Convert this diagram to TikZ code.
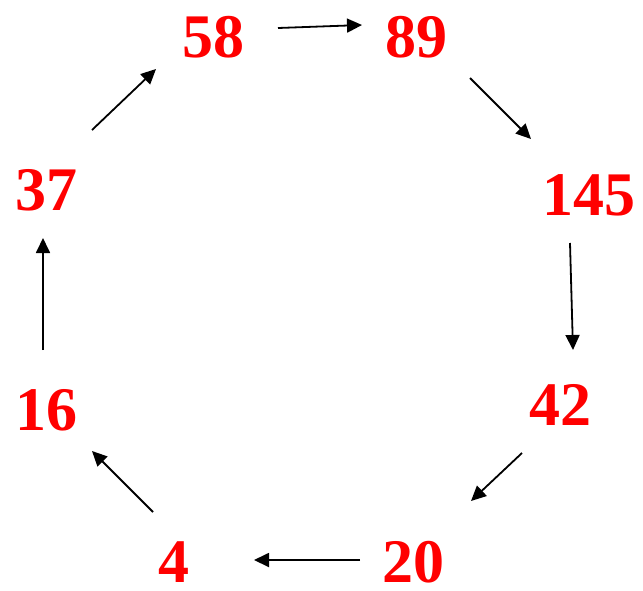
\documentclass[tikz,border=0pt]{standalone}
\usepackage{fontspec}
\setmainfont{Liberation Serif}
\usetikzlibrary{arrows.meta}
\definecolor{numred}{RGB}{255,0,0}
\begin{document}
\begin{tikzpicture}[x=1pt,y=-1pt,
  num/.style={text=numred,font=\fontsize{62}{62}\selectfont\bfseries,inner sep=0pt},
  conn/.style={line width=1.8pt,-{Triangle[length=15pt,width=14pt]}}]
\useasboundingbox (0,0) rectangle (643,590);
\node[num] (n58) at (213,37) {58};
\node[num] (n89) at (416,37) {89};
\node[num] (n145) at (589,195) {145};
\node[num] (n42) at (560,405) {42};
\node[num] (n20) at (413,562) {20};
\node[num] (n4) at (174,562) {4};
\node[num] (n16) at (47,410) {16};
\node[num] (n37) at (47,190) {37};
\coordinate (a1s) at (278,28); \coordinate (a1e) at (362,25);
\coordinate (a2s) at (470,78); \coordinate (a2e) at (531,139);
\coordinate (a3s) at (570,243); \coordinate (a3e) at (573,350);
\coordinate (a4s) at (522,453); \coordinate (a4e) at (471,501);
\coordinate (a5s) at (360,560); \coordinate (a5e) at (254,560);
\coordinate (a6s) at (153,512); \coordinate (a6e) at (92,451);
\coordinate (a7s) at (43,350); \coordinate (a7e) at (43,238);
\coordinate (a8s) at (92,130); \coordinate (a8e) at (156,69);
\draw[conn] (a1s) -- (a1e);
\draw[conn] (a2s) -- (a2e);
\draw[conn] (a3s) -- (a3e);
\draw[conn] (a4s) -- (a4e);
\draw[conn] (a5s) -- (a5e);
\draw[conn] (a6s) -- (a6e);
\draw[conn] (a7s) -- (a7e);
\draw[conn] (a8s) -- (a8e);
\end{tikzpicture}
\end{document}
